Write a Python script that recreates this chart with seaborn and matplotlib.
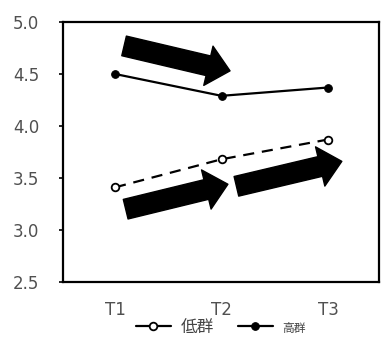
import matplotlib
matplotlib.use("Agg")
import matplotlib.pyplot as plt
import seaborn as sns
import pandas as pd

# Mean scores per time point for the two groups
times = ["T1", "T2", "T3"]
low_group = [3.41, 3.68, 3.87]
high_group = [4.50, 4.29, 4.37]
group_labels = ["低群", "高群"]
y_ticks = [2.5, 3.0, 3.5, 4.0, 4.5, 5.0]

sns.set_theme(style="white")
plt.rcParams["font.family"] = ["DejaVu Sans", "Noto Sans CJK JP"]

df_low = pd.DataFrame({"time": range(len(times)), "score": low_group})
df_high = pd.DataFrame({"time": range(len(times)), "score": high_group})

fig = plt.figure(figsize=(3.81, 3.49), dpi=100)
ax = fig.add_axes([0.165, 0.192, 0.83, 0.745])

sns.lineplot(data=df_low, x="time", y="score", ax=ax, color="black",
             linewidth=1.6, marker="o", markersize=5.5, markerfacecolor="white",
             markeredgecolor="black", markeredgewidth=1.3,
             linestyle=(0, (5, 3.5)), label=group_labels[0])
sns.lineplot(data=df_high, x="time", y="score", ax=ax, color="black",
             linewidth=1.6, marker="o", markersize=5.5, markerfacecolor="black",
             markeredgecolor="black", label=group_labels[1])

ax.set_xlim(-0.49, 2.48)
ax.set_ylim(2.5, 5.0)
ax.set_xticks(range(len(times)))
ax.set_xticklabels(times)
ax.set_yticks(y_ticks)
ax.set_yticklabels([f"{v:.1f}" for v in y_ticks])
ax.set_xlabel("")
ax.set_ylabel("")

for side in ["top", "right", "bottom", "left"]:
    ax.spines[side].set_visible(True)
    ax.spines[side].set_color("black")
    ax.spines[side].set_linewidth(1.6)

ax.tick_params(axis="y", length=3, width=1.2, color="black", pad=14,
               labelsize=12, labelcolor="#505050", left=True)
ax.tick_params(axis="x", length=0, pad=14, labelsize=12, labelcolor="#505050")

# Block arrows indicating the direction of change
arrow_style = "simple,head_length=1.6,head_width=2.9,tail_width=1.45"
arrows = [((0.085, 4.77), (1.08, 4.53)),
          ((0.10, 3.20), (1.06, 3.44)),
          ((1.14, 3.42), (2.13, 3.66))]
for start, end in arrows:
    ax.annotate("", xy=end, xytext=start,
                arrowprops=dict(arrowstyle=arrow_style, mutation_scale=10,
                                facecolor="black", edgecolor="black",
                                shrinkA=0, shrinkB=0))

leg = ax.legend(loc="upper center", bbox_to_anchor=(0.5, -0.085), ncol=2,
                frameon=False, handlelength=2.1, columnspacing=1.4,
                handletextpad=0.6,
                prop={"family": ["Noto Sans CJK JP"], "size": 12})
leg.get_texts()[1].set_fontsize(8.5)
for t in leg.get_texts():
    t.set_color("#444444")
leg.get_lines()[0].set_linestyle("-")

fig.savefig("out.png", dpi=100, facecolor="white")
